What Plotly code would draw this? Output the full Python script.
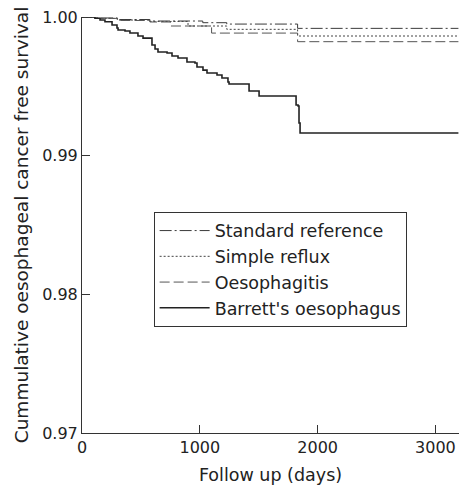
import plotly.graph_objects as go

# Follow-up time (days) and cumulative survival for each group (step functions)
std_days = [0, 110, 300, 576, 1025, 1229, 1830, 3195]
std_surv = [1.0, 0.99993, 0.99982, 0.99971, 0.99959, 0.99949, 0.99918, 0.99918]

reflux_days = [0, 110, 300, 576, 900, 1229, 1830, 3195]
reflux_surv = [1.0, 0.99990, 0.99978, 0.99968, 0.99935, 0.99911, 0.99863, 0.99863]

oeso_days = [0, 110, 300, 576, 750, 1100, 1830, 3195]
oeso_surv = [1.0, 0.99990, 0.99975, 0.99964, 0.99935, 0.99884, 0.99822, 0.99822]

barrett_days = [0, 110, 153, 195, 255, 297, 306, 365, 407, 475, 518, 594, 620, 645,
                722, 764, 815, 891, 959, 976, 1027, 1061, 1146, 1188, 1239, 1248,
                1418, 1503, 1817, 1834, 1842, 1851, 3195]
barrett_surv = [1.0, 0.99991, 0.99978, 0.99966, 0.99942, 0.99921, 0.99906, 0.99899,
                0.99885, 0.99863, 0.99848, 0.99798, 0.99769, 0.99748, 0.99740,
                0.99719, 0.99704, 0.99675, 0.99668, 0.99639, 0.99617, 0.99596,
                0.99582, 0.99560, 0.99531, 0.99517, 0.99466, 0.99430, 0.99365,
                0.99358, 0.99236, 0.99164, 0.99164]

x_ticks = [0, 1000, 2000, 3000]
y_ticks = [0.97, 0.98, 0.99, 1.00]
y_tick_labels = ["0.97", "0.98", "0.99", "1.00"]

FONT = "DejaVu Sans"

fig = go.Figure()
fig.add_trace(go.Scatter(x=std_days, y=std_surv, mode="lines", line_shape="hv",
                         name="Standard reference",
                         line=dict(color="#3a3a3a", width=1, dash="12px,3px,2px,3px")))
fig.add_trace(go.Scatter(x=reflux_days, y=reflux_surv, mode="lines", line_shape="hv",
                         name="Simple reflux",
                         line=dict(color="#444444", width=1, dash="2px,2px")))
fig.add_trace(go.Scatter(x=oeso_days, y=oeso_surv, mode="lines", line_shape="hv",
                         name="Oesophagitis",
                         line=dict(color="#555555", width=1, dash="10px,4px")))
fig.add_trace(go.Scatter(x=barrett_days, y=barrett_surv, mode="lines", line_shape="hv",
                         name="Barrett's oesophagus",
                         line=dict(color="#222222", width=1.6)))

fig.update_layout(
    width=461, height=485,
    margin=dict(l=82, r=2, t=17, b=52),
    paper_bgcolor="white", plot_bgcolor="white",
    font=dict(family=FONT, size=16, color="#222222"),
    showlegend=True,
    legend=dict(x=0.19, y=0.532, xanchor="left", yanchor="top",
                bordercolor="#333333", borderwidth=1, bgcolor="white",
                font=dict(family=FONT, size=17.5, color="#222222"),
                itemwidth=50, tracegroupgap=0),
    xaxis=dict(range=[0, 3200], tickvals=x_ticks, ticks="inside", ticklen=8,
               tickcolor="#333333", showline=True, linecolor="#333333", linewidth=1,
               showgrid=False, zeroline=False, automargin=False,
               title=dict(text="Follow up (days)", font=dict(size=17.5), standoff=13)),
    yaxis=dict(range=[0.97, 1.0], tickvals=y_ticks, ticktext=y_tick_labels,
               ticks="inside", ticklen=8, tickcolor="#333333",
               showline=True, linecolor="#333333", linewidth=1,
               showgrid=False, zeroline=False, automargin=False,
               title=dict(text="Cummulative oesophageal cancer free survival",
                          font=dict(size=18.5), standoff=8)),
)

fig.write_html(
    "out.html",
    config={"displayModeBar": False},
    post_script="document.body.style.margin='0';document.body.style.overflow='hidden';",
)
